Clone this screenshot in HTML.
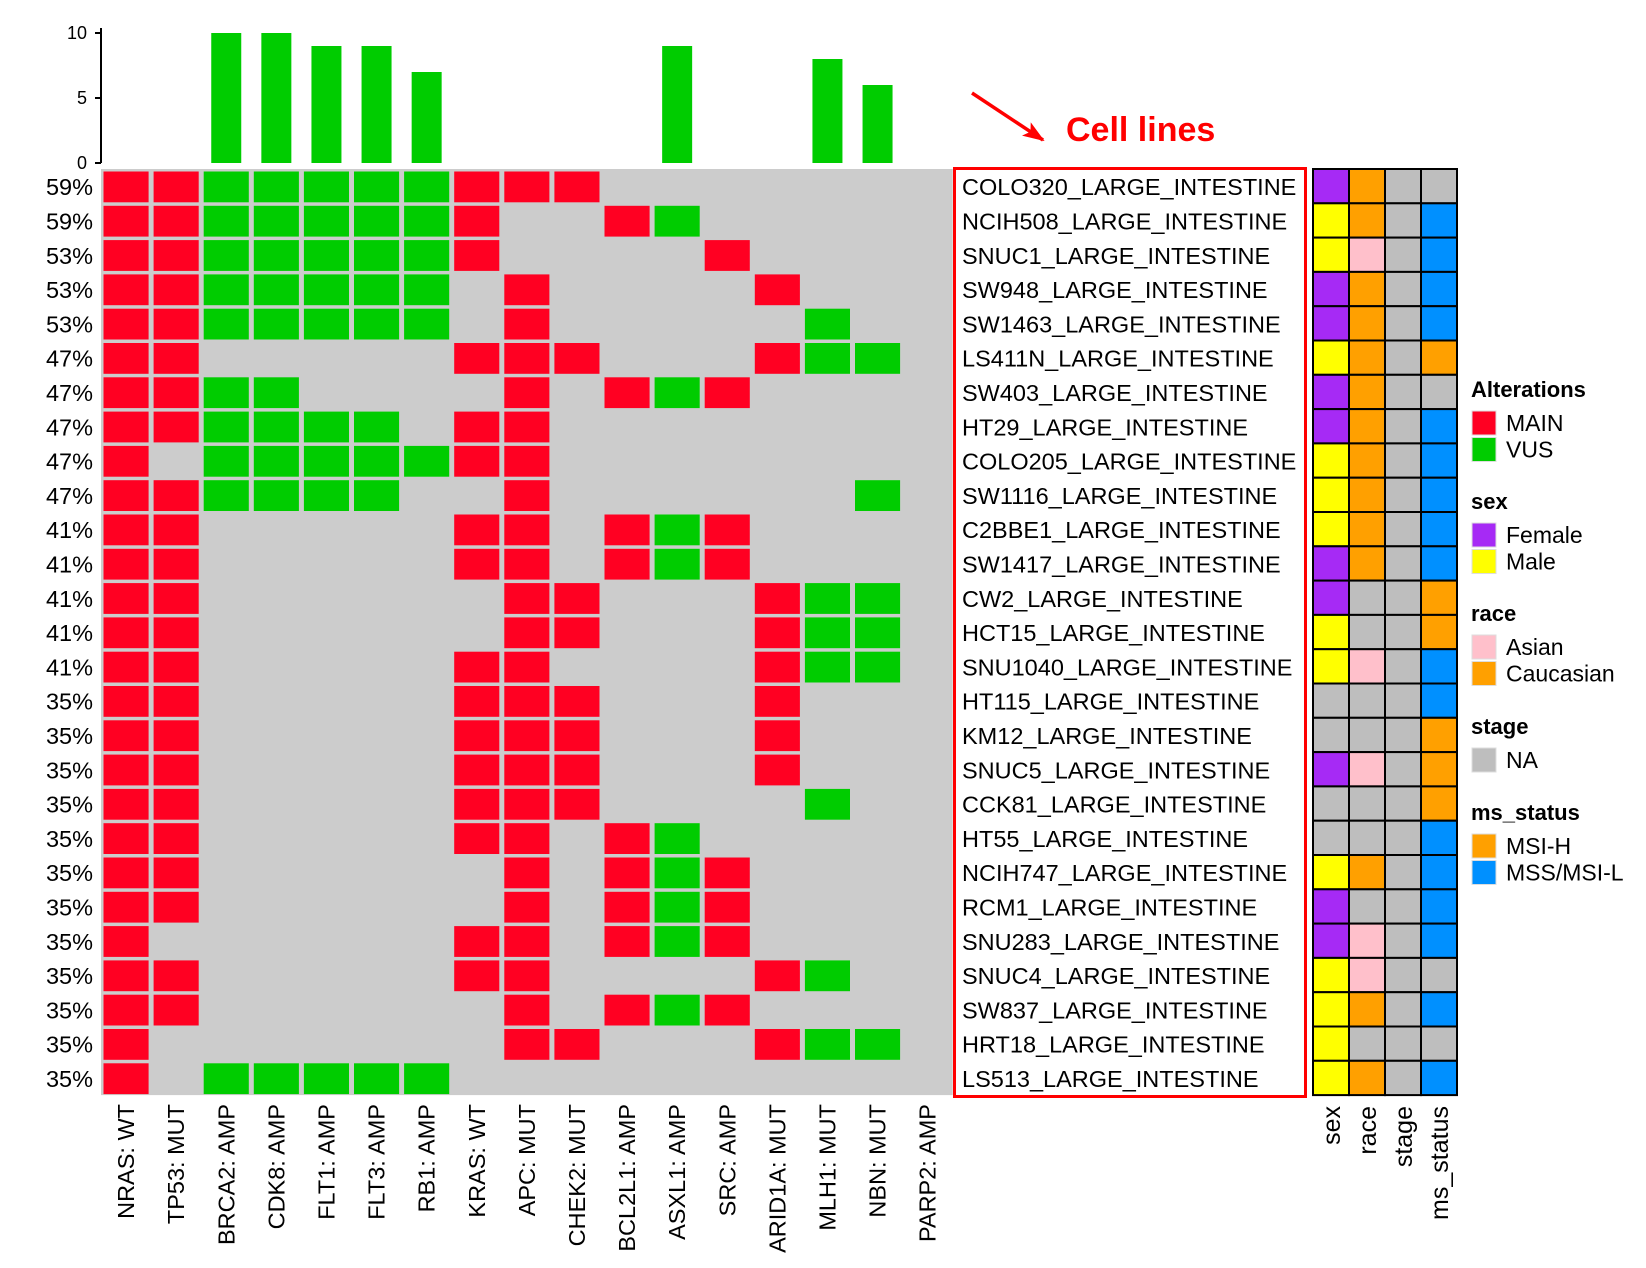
<!DOCTYPE html>
<html><head><meta charset="utf-8"><style>
html,body{margin:0;padding:0;background:#fff;}
svg{display:block;font-family:"Liberation Sans",sans-serif;}
</style></head><body>
<svg id="chart" width="1646" height="1268" viewBox="0 0 1646 1268">
<defs><marker id="ah" markerWidth="22" markerHeight="16" refX="20" refY="8" orient="auto" markerUnits="userSpaceOnUse"><path d="M0,0 L22,8 L0,16 L5,8 Z" fill="#ff0000"/></marker></defs>
<g id="bars"></g>
<g id="grid"></g>
<g id="annot"></g>
<rect x="954.5" y="168.5" width="351" height="928" fill="none" stroke="#ff0000" stroke-width="3"/>
<line x1="972" y1="93" x2="1043" y2="140" stroke="#ff0000" stroke-width="3.5" marker-end="url(#ah)"/>
<text x="1066" y="141" font-size="34" font-weight="bold" fill="#ff0000">Cell lines</text>
<g id="legend"></g>
</svg>
<script>
const genes = ["NRAS: WT","TP53: MUT","BRCA2: AMP","CDK8: AMP","FLT1: AMP","FLT3: AMP","RB1: AMP","KRAS: WT","APC: MUT","CHEK2: MUT","BCL2L1: AMP","ASXL1: AMP","SRC: AMP","ARID1A: MUT","MLH1: MUT","NBN: MUT","PARP2: AMP"];
const cellLines = ["COLO320","NCIH508","SNUC1","SW948","SW1463","LS411N","SW403","HT29","COLO205","SW1116","C2BBE1","SW1417","CW2","HCT15","SNU1040","HT115","KM12","SNUC5","CCK81","HT55","NCIH747","RCM1","SNU283","SNUC4","SW837","HRT18","LS513"];
const percents = ["59%","59%","53%","53%","53%","47%","47%","47%","47%","47%","41%","41%","41%","41%","41%","35%","35%","35%","35%","35%","35%","35%","35%","35%","35%","35%","35%"];
const alterations = [
"RRGGGGGRRR.......","RRGGGGGR..RG.....","RRGGGGGR....R....","RRGGGGG.R....R...","RRGGGGG.R.....G..",
"RR.....RRR...RGG.","RRGG....R.RGR....","RRGGGG.RR........","R.GGGGGRR........","RRGGGG..R......G.",
"RR.....RR.RGR....","RR.....RR.RGR....","RR......RR...RGG.","RR......RR...RGG.","RR.....RR....RGG.",
"RR.....RRR...R...","RR.....RRR...R...","RR.....RRR...R...","RR.....RRR....G..","RR.....RR.RG.....",
"RR......R.RGR....","RR......R.RGR....","R......RR.RGR....","RR.....RR....RG..","RR......R.RGR....",
"R.......RR...RGG.","R.GGGGG.........."];
const vusCounts = [0,0,10,10,9,9,7,0,0,0,0,9,0,0,8,6,0];
const barTicks = [0,5,10];
const annotTracks = ["sex","race","stage","ms_status"];
const sexVals   = "PYYPPYPPYYYPPYYNNPNNYPPYYYY";
const raceVals  = "OOKOOOOOOOOONNKNNKNNONKKONO";
const stageVals = "NNNNNNNNNNNNNNNNNNNNNNNNNNN";
const msVals    = "NBBBBONBBBBBOOBBOOOBBBBNBNB";

const colors = {R:"#ff0022",G:"#00cc00"};
const annotColors = {P:"#a62af5",Y:"#ffff00",O:"#ffa000",K:"#ffc0cb",B:"#0090ff",N:"#bebebe"};
const NS="http://www.w3.org/2000/svg";
function mk(tag,attrs,parent){const e=document.createElementNS(NS,tag);for(const k in attrs)e.setAttribute(k,attrs[k]);parent.appendChild(e);return e;}
const gx0=101, colW=50.1, gy0=169, rowH=34.3;
const xOf=i=>gx0+i*colW, yOf=r=>gy0+r*rowH;
const yBar=v=>163-v*13;

const bars=document.getElementById('bars');
let ax=mk('line',{x1:101,y1:28,x2:101,y2:163,stroke:'#000','stroke-width':2},bars);


barTicks.forEach(t=>{
  let tl=mk('line',{x1:95,y1:yBar(t),x2:101,y2:yBar(t),stroke:'#000','stroke-width':2},bars);
  
  
  let tx=mk('text',{x:87,y:yBar(t)+6,'font-size':18,'text-anchor':'end'},bars);tx.textContent=t;
  
  
});
vusCounts.forEach((v,i)=>{ if(!v) return;
  let b=mk('rect',{x:xOf(i)+colW/2-15,y:yBar(v),width:30,height:163-yBar(v),fill:'#00cc00'},bars);
  
  
});

const grid=document.getElementById('grid');
let bg=mk('rect',{x:gx0,y:gy0,width:genes.length*colW,height:cellLines.length*rowH,fill:'#cccccc'},grid);


alterations.forEach((row,r)=>{
  [...row].forEach((c,i)=>{ if(c==='.') return;
    let cell=mk('rect',{x:xOf(i)+2.5,y:yOf(r)+2.5,width:colW-5,height:rowH-3.5,fill:colors[c]},grid);
    
    
  });
  let p=mk('text',{x:93,y:yOf(r)+rowH/2+9,'font-size':23.5,'text-anchor':'end'},grid);p.textContent=percents[r];
  
  
  let n=mk('text',{x:962,y:yOf(r)+rowH/2+9,'font-size':23.5},grid);n.textContent=cellLines[r]+"_LARGE_INTESTINE";
  
  
});
genes.forEach((g,i)=>{
  const cx=xOf(i)+colW/2+8;
  let t=mk('text',{x:cx,y:1104,'font-size':23.5,'text-anchor':'end',transform:`rotate(-90 ${cx} 1104)`},grid);t.textContent=g;
  
  
});

const annot=document.getElementById('annot');
const ax0=1313, aw=36;
[sexVals,raceVals,stageVals,msVals].forEach((vals,k)=>{
  [...vals].forEach((c,r)=>{
    let a=mk('rect',{x:ax0+k*aw,y:yOf(r),width:aw,height:rowH,fill:annotColors[c],stroke:'#000','stroke-width':2},annot);
    
    
  });
  const cx=ax0+k*aw+aw/2+9;
  let t=mk('text',{x:cx,y:1106,'font-size':25,'text-anchor':'end',transform:`rotate(-90 ${cx} 1106)`},annot);t.textContent=annotTracks[k];
  
  
});

const legendTitles=["Alterations","sex","race","stage","ms_status"];
const legendTitleY=[397,509,621,734,820];
const legendItems=[[["MAIN","#ff0022"],["VUS","#00cc00"]],[["Female","#a62af5"],["Male","#ffff00"]],[["Asian","#ffc0cb"],["Caucasian","#ffa000"]],[["NA","#bebebe"]],[["MSI-H","#ffa000"],["MSS/MSI-L","#0090ff"]]];
const leg=document.getElementById('legend');
legendTitles.forEach((tt,k)=>{
  let t=mk('text',{x:1471,y:legendTitleY[k],'font-size':22,'font-weight':'bold'},leg);t.textContent=tt;
  
  
  legendItems[k].forEach((it,j)=>{
    const y=legendTitleY[k]+14+j*26.5;
    let s=mk('rect',{x:1472,y:y,width:24,height:24,fill:it[1],stroke:'#ddd','stroke-width':1},leg);
    
    
    let l=mk('text',{x:1506,y:y+20,'font-size':23},leg);l.textContent=it[0];
    
    
  });
});
</script>
</body></html>
